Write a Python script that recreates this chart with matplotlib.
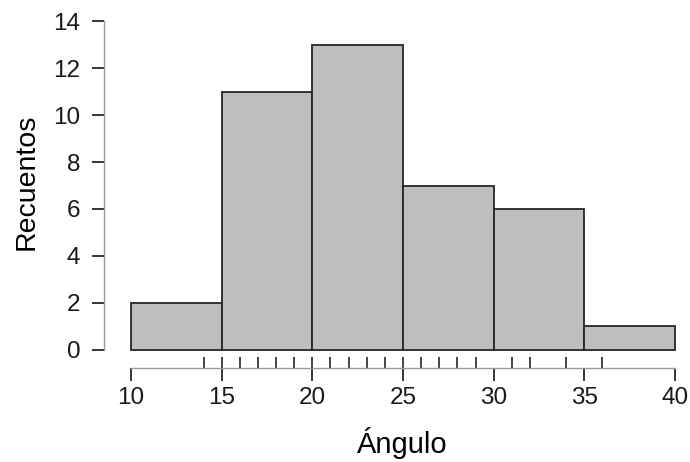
import matplotlib
matplotlib.use('Agg')
import matplotlib.pyplot as plt
import numpy as np

plt.rcParams['font.family'] = ['Liberation Sans', 'DejaVu Sans']

# histogram bins and counts
bin_edges = [10, 15, 20, 25, 30, 35, 40]
counts = [2, 11, 13, 7, 6, 1]
# rug marks (observed angle values)
rug_vals = [14, 15, 16, 17, 18, 19, 20, 21, 22, 23, 24, 25, 26, 27, 28, 29, 31, 32, 34, 36]
x_ticks = [10, 15, 20, 25, 30, 35, 40]
y_ticks = [0, 2, 4, 6, 8, 10, 12, 14]

fig = plt.figure(figsize=(6.9, 4.62), dpi=100)
ax = fig.add_axes([0.1507, 0.2035, 0.8354, 0.751])

lefts = np.array(bin_edges[:-1])
widths = np.diff(bin_edges)
ax.bar(lefts, counts, width=widths, align='edge', color='#bebebe',
       edgecolor='#262626', linewidth=1.3)

ax.set_xlim(8.51, 40.3)
ax.set_ylim(-0.766, 14)

# rug
ax.vlines(rug_vals, -0.766, -0.3, color='#262626', linewidth=1.2)

for s in ['top', 'right']:
    ax.spines[s].set_visible(False)
ax.spines['left'].set_bounds(0, 14)
ax.spines['bottom'].set_bounds(10, 40)
for s in ['left', 'bottom']:
    ax.spines[s].set_color('#9a9a9a')
    ax.spines[s].set_linewidth(1.0)

ax.set_xticks(x_ticks)
ax.set_yticks(y_ticks)
ax.tick_params(axis='both', length=9, width=1.3, color='#262626',
               labelsize=17.5, labelcolor='#1a1a1a')
ax.tick_params(axis='x', pad=5)
ax.tick_params(axis='y', pad=8)

ax.set_xlabel('Ángulo', fontsize=21)
ax.set_ylabel('Recuentos', fontsize=20.5)
ax.xaxis.set_label_coords(0.517, -0.216)
ax.xaxis.label.set_va('center')
ax.yaxis.set_label_coords(-0.135, 0.536)
ax.yaxis.label.set_va('center')

fig.savefig('out.png', dpi=100)
